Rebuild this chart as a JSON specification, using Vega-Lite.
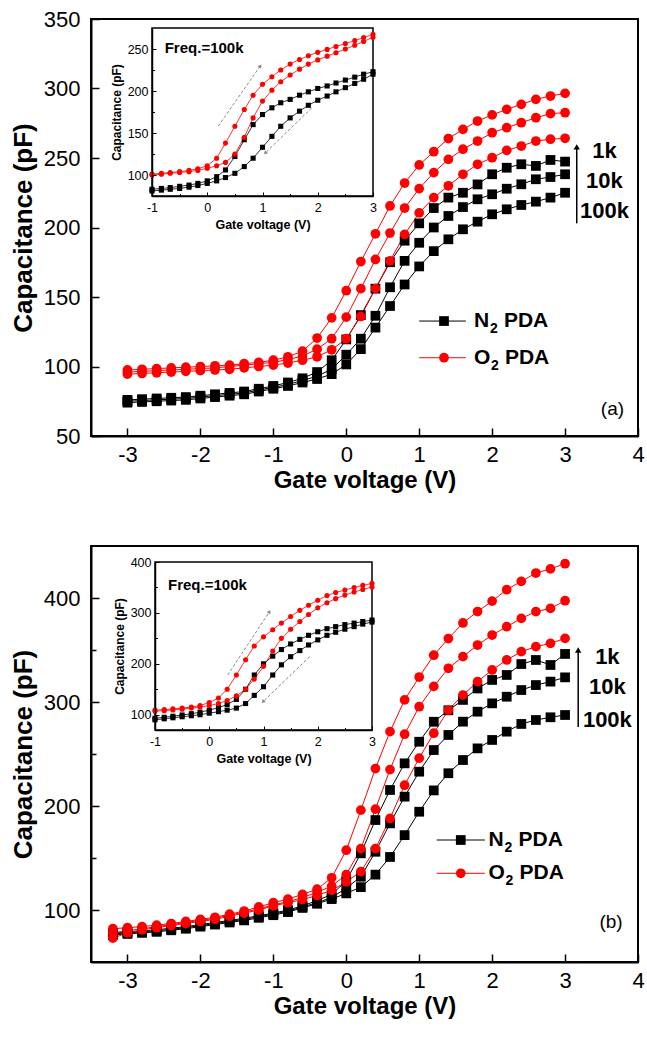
{
"$schema": "https://vega.github.io/schema/vega-lite/v6.json",
"padding": {"left": 9, "top": 7, "right": 0, "bottom": 0},
"spacing": 52,
"config": {
  "view": {"stroke": "black", "strokeWidth": 2},
  "font": "Liberation Sans",
  "axis": {"grid": false, "domainColor": "black", "domainWidth": 2, "tickColor": "black", "tickWidth": 1.5, "labelColor": "black", "titleColor": "black", "labelFont": "Liberation Sans", "titleFont": "Liberation Sans", "titleFontWeight": "bold", "labelFlush": false, "labelOverlap": false}
},
"datasets": {
  "a": [
    {"V":-3,"n1":76,"n10":75,"n100":74,"o1":97.5,"o10":96,"o100":94.5},
    {"V":-2.8,"n1":76.5,"n10":75.5,"n100":74.5,"o1":98,"o10":96.5,"o100":95},
    {"V":-2.6,"n1":77,"n10":76,"n100":75,"o1":98.5,"o10":97,"o100":95.5},
    {"V":-2.4,"n1":77.5,"n10":76.5,"n100":75.5,"o1":99,"o10":97.5,"o100":96},
    {"V":-2.2,"n1":78,"n10":77,"n100":76,"o1":99.5,"o10":98,"o100":96.5},
    {"V":-2,"n1":79,"n10":78,"n100":77,"o1":100,"o10":98.5,"o100":97},
    {"V":-1.8,"n1":80,"n10":79,"n100":78,"o1":100.5,"o10":99,"o100":97.5},
    {"V":-1.6,"n1":81,"n10":80,"n100":79,"o1":101,"o10":100,"o100":98},
    {"V":-1.4,"n1":82,"n10":81,"n100":80,"o1":102,"o10":101,"o100":99},
    {"V":-1.2,"n1":84,"n10":83,"n100":82,"o1":103,"o10":102,"o100":100},
    {"V":-1,"n1":86,"n10":85,"n100":84,"o1":104.5,"o10":103,"o100":101},
    {"V":-0.8,"n1":88.5,"n10":87,"n100":86,"o1":107,"o10":105,"o100":102.5},
    {"V":-0.6,"n1":91.5,"n10":90,"n100":88.5,"o1":111,"o10":107.5,"o100":104.5},
    {"V":-0.4,"n1":96,"n10":93,"n100":91,"o1":120.5,"o10":112.5,"o100":107},
    {"V":-0.2,"n1":104.5,"n10":98,"n100":94.5,"o1":135,"o10":120,"o100":112},
    {"V":0,"n1":119.5,"n10":108.5,"n100":101.5,"o1":154.5,"o10":135.5,"o100":120},
    {"V":0.2,"n1":137,"n10":120,"n100":112.5,"o1":175.5,"o10":156,"o100":136},
    {"V":0.4,"n1":156,"n10":136.5,"n100":128,"o1":195.5,"o10":177,"o100":156},
    {"V":0.6,"n1":175,"n10":157,"n100":143.5,"o1":215.5,"o10":196,"o100":176},
    {"V":0.8,"n1":190.5,"n10":176,"n100":159,"o1":232,"o10":214,"o100":195},
    {"V":1,"n1":203,"n10":189,"n100":172,"o1":245,"o10":228,"o100":210.5},
    {"V":1.2,"n1":214,"n10":200,"n100":183,"o1":254.5,"o10":239.5,"o100":221.5},
    {"V":1.4,"n1":221.5,"n10":208.3,"n100":191.5,"o1":264,"o10":249,"o100":230},
    {"V":1.6,"n1":225,"n10":214.7,"n100":198.7,"o1":270.6,"o10":256.3,"o100":238.3},
    {"V":1.8,"n1":231,"n10":220.3,"n100":204.2,"o1":276.6,"o10":262.2,"o100":245.5},
    {"V":2,"n1":238.3,"n10":223.9,"n100":209.5,"o1":281,"o10":268.2,"o100":250.2},
    {"V":2.2,"n1":243,"n10":227.9,"n100":213.1,"o1":285,"o10":271.8,"o100":255.5},
    {"V":2.4,"n1":245.5,"n10":231.1,"n100":216.2,"o1":288.6,"o10":275.4,"o100":258.6},
    {"V":2.6,"n1":244.3,"n10":234.7,"n100":218.6,"o1":292.2,"o10":279,"o100":262.2},
    {"V":2.8,"n1":248.6,"n10":236.3,"n100":221.5,"o1":294.6,"o10":281.9,"o100":263.5},
    {"V":3,"n1":247.4,"n10":238.3,"n100":225,"o1":296.5,"o10":282.6,"o100":264.2}
  ],
  "b": [
    {"V":-3.2,"n1":78,"n10":77,"n100":76,"o1":82,"o10":78,"o100":73},
    {"V":-3,"n1":79,"n10":78,"n100":77,"o1":83,"o10":80,"o100":78},
    {"V":-2.8,"n1":80,"n10":79,"n100":78,"o1":84,"o10":82,"o100":81},
    {"V":-2.6,"n1":81,"n10":80,"n100":79,"o1":85.5,"o10":84,"o100":83},
    {"V":-2.4,"n1":82.5,"n10":81.5,"n100":80.5,"o1":87,"o10":86,"o100":85},
    {"V":-2.2,"n1":84,"n10":83,"n100":82,"o1":89,"o10":88,"o100":87},
    {"V":-2,"n1":86,"n10":85,"n100":84,"o1":91,"o10":90,"o100":89},
    {"V":-1.8,"n1":88,"n10":87,"n100":86,"o1":93,"o10":92,"o100":91},
    {"V":-1.6,"n1":90,"n10":89,"n100":88,"o1":96,"o10":95,"o100":94},
    {"V":-1.4,"n1":92,"n10":91,"n100":90,"o1":99,"o10":98,"o100":97},
    {"V":-1.2,"n1":94.5,"n10":93.5,"n100":92.5,"o1":103,"o10":101,"o100":100},
    {"V":-1,"n1":97,"n10":96,"n100":95,"o1":107,"o10":105,"o100":104},
    {"V":-0.8,"n1":100,"n10":99,"n100":98,"o1":110.5,"o10":108,"o100":107},
    {"V":-0.6,"n1":104,"n10":103,"n100":102,"o1":115,"o10":112,"o100":110},
    {"V":-0.4,"n1":109,"n10":107,"n100":106,"o1":120,"o10":117,"o100":114},
    {"V":-0.2,"n1":115,"n10":112,"n100":110.5,"o1":131,"o10":123,"o100":119},
    {"V":0,"n1":128,"n10":121,"n100":116,"o1":157.5,"o10":134,"o100":127},
    {"V":0.2,"n1":154.5,"n10":132,"n100":122,"o1":196,"o10":159,"o100":137},
    {"V":0.4,"n1":186.5,"n10":156,"n100":134,"o1":236,"o10":197,"o100":159},
    {"V":0.6,"n1":215.4,"n10":183.3,"n100":151,"o1":271.5,"o10":235,"o100":188},
    {"V":0.8,"n1":241,"n10":209,"n100":172,"o1":302,"o10":269,"o100":220},
    {"V":1,"n1":261.8,"n10":233,"n100":194.5,"o1":324,"o10":295.5,"o100":246},
    {"V":1.2,"n1":281,"n10":253.8,"n100":215,"o1":345,"o10":315,"o100":270},
    {"V":1.4,"n1":292,"n10":268.3,"n100":231.5,"o1":361,"o10":332.4,"o100":292.3},
    {"V":1.6,"n1":302,"n10":281.1,"n100":244.2,"o1":376,"o10":343.6,"o100":306.7},
    {"V":1.8,"n1":313,"n10":290.7,"n100":255.4,"o1":387,"o10":354.8,"o100":319.6},
    {"V":2,"n1":321.2,"n10":298.7,"n100":263.5,"o1":397,"o10":364.4,"o100":330.8},
    {"V":2.2,"n1":326,"n10":305.1,"n100":271.5,"o1":408,"o10":372.4,"o100":340.4},
    {"V":2.4,"n1":336.5,"n10":311.5,"n100":278.9,"o1":416,"o10":380.4,"o100":348.4},
    {"V":2.6,"n1":340.4,"n10":316.3,"n100":282.7,"o1":424,"o10":386.9,"o100":353.2},
    {"V":2.8,"n1":335.6,"n10":319.6,"n100":285.3,"o1":428,"o10":390,"o100":356.4},
    {"V":3,"n1":346.2,"n10":323.7,"n100":287.5,"o1":433,"o10":397.4,"o100":361.2}
  ],
  "ia": [
    {"V":-1,"nf":83,"nb":81,"of":101,"ob":100},
    {"V":-0.83,"nf":84,"nb":82,"of":102,"ob":101},
    {"V":-0.67,"nf":85,"nb":83,"of":103,"ob":102},
    {"V":-0.5,"nf":86.5,"nb":84,"of":104,"ob":103},
    {"V":-0.33,"nf":88,"nb":85.5,"of":105.5,"ob":104},
    {"V":-0.17,"nf":90,"nb":87.5,"of":107.5,"ob":105.5},
    {"V":0,"nf":93,"nb":90,"of":111,"ob":108},
    {"V":0.17,"nf":98,"nb":93,"of":120,"ob":111},
    {"V":0.33,"nf":106,"nb":97,"of":138,"ob":115},
    {"V":0.5,"nf":122,"nb":102,"of":158,"ob":125},
    {"V":0.67,"nf":142,"nb":110,"of":178,"ob":145},
    {"V":0.83,"nf":160,"nb":120,"of":195,"ob":168},
    {"V":1,"nf":172,"nb":133,"of":208,"ob":188},
    {"V":1.17,"nf":180,"nb":146,"of":217,"ob":201},
    {"V":1.33,"nf":186,"nb":158,"of":225,"ob":211},
    {"V":1.5,"nf":190,"nb":168,"of":232,"ob":219},
    {"V":1.67,"nf":195,"nb":176,"of":237.5,"ob":226},
    {"V":1.83,"nf":199,"nb":183,"of":242,"ob":232},
    {"V":2,"nf":203,"nb":189,"of":246,"ob":237},
    {"V":2.17,"nf":206,"nb":194,"of":249.5,"ob":241.5},
    {"V":2.33,"nf":209.5,"nb":199,"of":253,"ob":245.5},
    {"V":2.5,"nf":213,"nb":204,"of":256.5,"ob":250},
    {"V":2.67,"nf":216.5,"nb":209,"of":260,"ob":254.5},
    {"V":2.83,"nf":220,"nb":214,"of":263.5,"ob":259},
    {"V":3,"nf":223,"nb":220,"of":267.5,"ob":264}
  ],
  "ib": [
    {"V":-1,"nf":93,"nb":90,"of":109,"ob":107},
    {"V":-0.83,"nf":95,"nb":92,"of":110,"ob":108},
    {"V":-0.67,"nf":97,"nb":94,"of":111.5,"ob":109.5},
    {"V":-0.5,"nf":99.5,"nb":96,"of":113,"ob":111},
    {"V":-0.33,"nf":102,"nb":98,"of":115,"ob":113},
    {"V":-0.17,"nf":105,"nb":100,"of":118,"ob":115},
    {"V":0,"nf":109,"nb":103,"of":124,"ob":118},
    {"V":0.17,"nf":114,"nb":106,"of":133,"ob":122},
    {"V":0.33,"nf":120,"nb":109,"of":150,"ob":128},
    {"V":0.5,"nf":130,"nb":113,"of":178,"ob":137},
    {"V":0.67,"nf":150,"nb":122,"of":208,"ob":150},
    {"V":0.83,"nf":178,"nb":138,"of":235,"ob":170},
    {"V":1,"nf":200,"nb":155,"of":253,"ob":195},
    {"V":1.17,"nf":215,"nb":178,"of":267,"ob":225},
    {"V":1.33,"nf":228,"nb":198,"of":280,"ob":250},
    {"V":1.5,"nf":239,"nb":214,"of":293,"ob":268},
    {"V":1.67,"nf":248,"nb":226,"of":305,"ob":283},
    {"V":1.83,"nf":256,"nb":237,"of":315,"ob":297},
    {"V":2,"nf":263,"nb":247,"of":325,"ob":310},
    {"V":2.17,"nf":269,"nb":256,"of":334,"ob":320},
    {"V":2.33,"nf":273,"nb":262,"of":340,"ob":328},
    {"V":2.5,"nf":277,"nb":268,"of":345,"ob":335},
    {"V":2.67,"nf":280,"nb":273,"of":350,"ob":341},
    {"V":2.83,"nf":283,"nb":278,"of":354,"ob":346},
    {"V":3,"nf":286,"nb":282,"of":358,"ob":351}
  ]
},
"vconcat": [
{
  "width": 547, "height": 417,
  "resolve": {"scale": {"x": "independent", "y": "independent"}},
  "layer": [
    {"layer": [
      {"data": {"name": "a"}, "transform": [{"fold": ["n1","n10","n100","o1","o10","o100"], "as": ["k","C"]}],
       "mark": {"type": "line", "strokeWidth": 1},
       "encoding": {
         "x": {"field": "V", "type": "quantitative", "scale": {"domain": [-3.5, 4], "nice": false, "zero": false},
               "axis": {"title": "Gate voltage (V)", "orient": "bottom", "values": [-3,-2.5,-2,-1.5,-1,-0.5,0,0.5,1,1.5,2,2.5,3,3.5,4],
                        "labelExpr": "datum.value % 1 === 0 ? (datum.value < 0 ? '-' + abs(datum.value) : '' + datum.value) : ''",
                        "tickSize": {"condition": {"test": "datum.value % 1 !== 0", "value": -5}, "value": -8},
                        "labelPadding": 16, "labelFontSize": 22, "titleFontSize": 24, "titlePadding": 3}},
         "y": {"field": "C", "type": "quantitative", "scale": {"domain": [50, 350], "nice": false, "zero": false},
               "axis": {"title": "Capacitance (pF)", "orient": "left", "values": [50,75,100,125,150,175,200,225,250,275,300,325,350],
                        "labelExpr": "datum.value % 50 === 0 ? datum.label : ''",
                        "tickSize": {"condition": {"test": "datum.value % 50 !== 0", "value": -5}, "value": -8},
                        "labelPadding": 19, "labelFontSize": 22, "titleFontSize": 26, "titlePadding": 7}},
         "color": {"field": "k", "type": "nominal", "legend": null, "scale": {"domain": ["n1","n10","n100","o1","o10","o100","nf","nb","of","ob"], "range": ["#000000","#000000","#000000","#ff0000","#ff0000","#ff0000","#000000","#000000","#ff0000","#ff0000"]}},
         "detail": {"field": "k"}
       }},
      {"data": {"name": "a"}, "transform": [{"fold": ["n1","n10","n100","o1","o10","o100"], "as": ["k","C"]}],
       "mark": {"type": "point", "filled": true, "size": 95, "opacity": 1},
       "encoding": {
         "x": {"field": "V", "type": "quantitative"},
         "y": {"field": "C", "type": "quantitative"},
         "color": {"field": "k", "type": "nominal", "legend": null},
         "shape": {"field": "k", "type": "nominal", "legend": null, "scale": {"domain": ["n1","n10","n100","o1","o10","o100","nf","nb","of","ob"], "range": ["square","square","square","circle","circle","circle","square","square","circle","circle"]}}
       }},
      {"data": {"values": [{}]}, "mark": {"type": "rule", "color": "#000000", "strokeWidth": 1}, "encoding": {"x": {"datum": 1.0}, "x2": {"datum": 1.64}, "y": {"datum": 132.7}}},
      {"data": {"values": [{}]}, "mark": {"type": "point", "shape": "square", "filled": true, "size": 95, "color": "#000000", "opacity": 1}, "encoding": {"x": {"datum": 1.34}, "y": {"datum": 132.7}}},
      {"data": {"values": [{}]}, "mark": {"type": "rule", "color": "#ff0000", "strokeWidth": 1}, "encoding": {"x": {"datum": 1.0}, "x2": {"datum": 1.64}, "y": {"datum": 106.3}}},
      {"data": {"values": [{}]}, "mark": {"type": "point", "shape": "circle", "filled": true, "size": 95, "color": "#ff0000", "opacity": 1}, "encoding": {"x": {"datum": 1.34}, "y": {"datum": 106.3}}},
      {"data": {"values": [{}]}, "mark": {"type": "text", "fontSize": 21, "fontWeight": "bold", "align": "left", "baseline": "middle"}, "encoding": {"x": {"datum": 1.75}, "y": {"datum": 132.7}, "text": {"value": "N"}}},
      {"data": {"values": [{}]}, "mark": {"type": "text", "fontSize": 14, "fontWeight": "bold", "align": "left", "baseline": "middle", "dx": 16, "dy": 8}, "encoding": {"x": {"datum": 1.75}, "y": {"datum": 132.7}, "text": {"value": "2"}}},
      {"data": {"values": [{}]}, "mark": {"type": "text", "fontSize": 21, "fontWeight": "bold", "align": "left", "baseline": "middle", "dx": 30}, "encoding": {"x": {"datum": 1.75}, "y": {"datum": 132.7}, "text": {"value": "PDA"}}},
      {"data": {"values": [{}]}, "mark": {"type": "text", "fontSize": 21, "fontWeight": "bold", "align": "left", "baseline": "middle"}, "encoding": {"x": {"datum": 1.75}, "y": {"datum": 106.3}, "text": {"value": "O"}}},
      {"data": {"values": [{}]}, "mark": {"type": "text", "fontSize": 14, "fontWeight": "bold", "align": "left", "baseline": "middle", "dx": 17, "dy": 8}, "encoding": {"x": {"datum": 1.75}, "y": {"datum": 106.3}, "text": {"value": "2"}}},
      {"data": {"values": [{}]}, "mark": {"type": "text", "fontSize": 21, "fontWeight": "bold", "align": "left", "baseline": "middle", "dx": 31}, "encoding": {"x": {"datum": 1.75}, "y": {"datum": 106.3}, "text": {"value": "PDA"}}},
      {"data": {"values": [{}]}, "mark": {"type": "text", "fontSize": 19, "align": "center", "baseline": "middle"}, "encoding": {"x": {"datum": 3.65}, "y": {"datum": 69.4}, "text": {"value": "(a)"}}},
      {"data": {"values": [{}]}, "mark": {"type": "text", "fontSize": 22, "fontWeight": "bold", "align": "center", "baseline": "middle"}, "encoding": {"x": {"datum": 3.54}, "y": {"datum": 255}, "text": {"value": "1k"}}},
      {"data": {"values": [{}]}, "mark": {"type": "text", "fontSize": 22, "fontWeight": "bold", "align": "center", "baseline": "middle"}, "encoding": {"x": {"datum": 3.54}, "y": {"datum": 233.5}, "text": {"value": "10k"}}},
      {"data": {"values": [{}]}, "mark": {"type": "text", "fontSize": 22, "fontWeight": "bold", "align": "center", "baseline": "middle"}, "encoding": {"x": {"datum": 3.54}, "y": {"datum": 212}, "text": {"value": "100k"}}},
      {"data": {"values": [{}]}, "mark": {"type": "rule", "color": "#000000", "strokeWidth": 1.5}, "encoding": {"x": {"datum": 3.16}, "y": {"datum": 203}, "y2": {"datum": 257}}},
      {"data": {"values": [{}]}, "mark": {"type": "point", "shape": "triangle-up", "filled": true, "size": 40, "color": "#000000", "opacity": 1}, "encoding": {"x": {"datum": 3.16}, "y": {"datum": 258}}}
    ]},
    {"layer": [
      {"data": {"values": [{}]}, "mark": {"type": "rect", "fill": "white", "stroke": "black", "strokeWidth": 1.5}, "encoding": {"x": {"datum": -1}, "x2": {"datum": 3}, "y": {"datum": 75}, "y2": {"datum": 275}}},
      {"data": {"name": "ia"}, "transform": [{"fold": ["nf","nb","of","ob"], "as": ["k","C"]}],
       "mark": {"type": "line", "strokeWidth": 0.8},
       "encoding": {
         "x": {"field": "V", "type": "quantitative", "scale": {"domain": [-1, 3], "range": [61, 282], "nice": false, "zero": false},
               "axis": {"title": "Gate voltage (V)", "orient": "bottom", "offset": -240, "zindex": 1, "values": [-1,-0.5,0,0.5,1,1.5,2,2.5,3],
                        "labelExpr": "datum.value % 1 === 0 ? (datum.value < 0 ? '-' + abs(datum.value) : '' + datum.value) : ''",
                        "tickSize": {"condition": {"test": "datum.value % 1 !== 0", "value": -2.5}, "value": -4},
                        "labelPadding": 9, "labelFontSize": 12.5, "titleFontSize": 12.5, "titlePadding": 3, "domainWidth": 1.5, "tickWidth": 1}},
         "y": {"field": "C", "type": "quantitative", "scale": {"domain": [75, 275], "range": [177, 9], "nice": false, "zero": false},
               "axis": {"title": "Capacitance (pF)", "orient": "left", "offset": -61, "zindex": 1, "values": [100,125,150,175,200,225,250],
                        "labelExpr": "datum.value % 50 === 0 ? datum.label : ''",
                        "tickSize": {"condition": {"test": "datum.value % 50 !== 0", "value": -2.5}, "value": -4},
                        "labelPadding": 8, "labelFontSize": 12.5, "titleFontSize": 12, "titlePadding": 4, "domainWidth": 1.5, "tickWidth": 1}},
         "color": {"field": "k", "type": "nominal", "legend": null},
         "detail": {"field": "k"}
       }},
      {"data": {"name": "ia"}, "transform": [{"fold": ["nf","nb","of","ob"], "as": ["k","C"]}],
       "mark": {"type": "point", "filled": true, "size": 26, "opacity": 1},
       "encoding": {
         "x": {"field": "V", "type": "quantitative"},
         "y": {"field": "C", "type": "quantitative"},
         "color": {"field": "k", "type": "nominal", "legend": null},
         "shape": {"field": "k", "type": "nominal", "legend": null}
       }},
      {"data": {"values": [{}]}, "mark": {"type": "text", "fontSize": 15, "fontWeight": "bold", "align": "left", "baseline": "middle"}, "encoding": {"x": {"datum": -0.77}, "y": {"datum": 251}, "text": {"value": "Freq.=100k"}}},
      {"data": {"values": [{}]}, "mark": {"type": "rule", "color": "#888888", "strokeWidth": 1, "strokeDash": [3, 2]}, "encoding": {"x": {"datum": 0.2}, "y": {"datum": 158.3}, "x2": {"datum": 0.96}, "y2": {"datum": 229.8}}},
      {"data": {"values": [{}]}, "mark": {"type": "point", "shape": "triangle-up", "angle": 35, "filled": true, "size": 18, "color": "#888888", "opacity": 1}, "encoding": {"x": {"datum": 0.96}, "y": {"datum": 229.8}}},
      {"data": {"values": [{}]}, "mark": {"type": "rule", "color": "#888888", "strokeWidth": 1, "strokeDash": [3, 2]}, "encoding": {"x": {"datum": 1.89}, "y": {"datum": 179.8}, "x2": {"datum": 1.05}, "y2": {"datum": 126.2}}},
      {"data": {"values": [{}]}, "mark": {"type": "point", "shape": "triangle-up", "angle": 225, "filled": true, "size": 18, "color": "#888888", "opacity": 1}, "encoding": {"x": {"datum": 1.05}, "y": {"datum": 126.2}}}
    ]}
  ]
},
{
  "width": 547, "height": 416,
  "resolve": {"scale": {"x": "independent", "y": "independent"}},
  "layer": [
    {"layer": [
      {"data": {"name": "b"}, "transform": [{"fold": ["n1","n10","n100","o1","o10","o100"], "as": ["k","C"]}],
       "mark": {"type": "line", "strokeWidth": 1},
       "encoding": {
         "x": {"field": "V", "type": "quantitative", "scale": {"domain": [-3.5, 4], "nice": false, "zero": false},
               "axis": {"title": "Gate voltage (V)", "orient": "bottom", "values": [-3,-2.5,-2,-1.5,-1,-0.5,0,0.5,1,1.5,2,2.5,3,3.5,4],
                        "labelExpr": "datum.value % 1 === 0 ? (datum.value < 0 ? '-' + abs(datum.value) : '' + datum.value) : ''",
                        "tickSize": {"condition": {"test": "datum.value % 1 !== 0", "value": -5}, "value": -8},
                        "labelPadding": 16, "labelFontSize": 22, "titleFontSize": 24, "titlePadding": 3}},
         "y": {"field": "C", "type": "quantitative", "scale": {"domain": [50, 450], "nice": false, "zero": false},
               "axis": {"title": "Capacitance (pF)", "orient": "left", "values": [100,150,200,250,300,350,400],
                        "labelExpr": "datum.value % 100 === 0 ? datum.label : ''",
                        "tickSize": {"condition": {"test": "datum.value % 100 !== 0", "value": -5}, "value": -8},
                        "labelPadding": 19, "labelFontSize": 22, "titleFontSize": 26, "titlePadding": 7}},
         "color": {"field": "k", "type": "nominal", "legend": null},
         "detail": {"field": "k"}
       }},
      {"data": {"name": "b"}, "transform": [{"fold": ["n1","n10","n100","o1","o10","o100"], "as": ["k","C"]}],
       "mark": {"type": "point", "filled": true, "size": 95, "opacity": 1},
       "encoding": {
         "x": {"field": "V", "type": "quantitative"},
         "y": {"field": "C", "type": "quantitative"},
         "color": {"field": "k", "type": "nominal", "legend": null},
         "shape": {"field": "k", "type": "nominal", "legend": null}
       }},
      {"data": {"values": [{}]}, "mark": {"type": "rule", "color": "#000000", "strokeWidth": 1}, "encoding": {"x": {"datum": 1.24}, "x2": {"datum": 1.9}, "y": {"datum": 167.3}}},
      {"data": {"values": [{}]}, "mark": {"type": "point", "shape": "square", "filled": true, "size": 95, "color": "#000000", "opacity": 1}, "encoding": {"x": {"datum": 1.57}, "y": {"datum": 167.3}}},
      {"data": {"values": [{}]}, "mark": {"type": "rule", "color": "#ff0000", "strokeWidth": 1}, "encoding": {"x": {"datum": 1.24}, "x2": {"datum": 1.9}, "y": {"datum": 135.3}}},
      {"data": {"values": [{}]}, "mark": {"type": "point", "shape": "circle", "filled": true, "size": 95, "color": "#ff0000", "opacity": 1}, "encoding": {"x": {"datum": 1.57}, "y": {"datum": 135.3}}},
      {"data": {"values": [{}]}, "mark": {"type": "text", "fontSize": 21, "fontWeight": "bold", "align": "left", "baseline": "middle"}, "encoding": {"x": {"datum": 1.95}, "y": {"datum": 167.3}, "text": {"value": "N"}}},
      {"data": {"values": [{}]}, "mark": {"type": "text", "fontSize": 14, "fontWeight": "bold", "align": "left", "baseline": "middle", "dx": 16, "dy": 8}, "encoding": {"x": {"datum": 1.95}, "y": {"datum": 167.3}, "text": {"value": "2"}}},
      {"data": {"values": [{}]}, "mark": {"type": "text", "fontSize": 21, "fontWeight": "bold", "align": "left", "baseline": "middle", "dx": 30}, "encoding": {"x": {"datum": 1.95}, "y": {"datum": 167.3}, "text": {"value": "PDA"}}},
      {"data": {"values": [{}]}, "mark": {"type": "text", "fontSize": 21, "fontWeight": "bold", "align": "left", "baseline": "middle"}, "encoding": {"x": {"datum": 1.95}, "y": {"datum": 135.3}, "text": {"value": "O"}}},
      {"data": {"values": [{}]}, "mark": {"type": "text", "fontSize": 14, "fontWeight": "bold", "align": "left", "baseline": "middle", "dx": 17, "dy": 8}, "encoding": {"x": {"datum": 1.95}, "y": {"datum": 135.3}, "text": {"value": "2"}}},
      {"data": {"values": [{}]}, "mark": {"type": "text", "fontSize": 21, "fontWeight": "bold", "align": "left", "baseline": "middle", "dx": 31}, "encoding": {"x": {"datum": 1.95}, "y": {"datum": 135.3}, "text": {"value": "PDA"}}},
      {"data": {"values": [{}]}, "mark": {"type": "text", "fontSize": 19, "align": "center", "baseline": "middle"}, "encoding": {"x": {"datum": 3.63}, "y": {"datum": 88.8}, "text": {"value": "(b)"}}},
      {"data": {"values": [{}]}, "mark": {"type": "text", "fontSize": 22, "fontWeight": "bold", "align": "center", "baseline": "middle"}, "encoding": {"x": {"datum": 3.58}, "y": {"datum": 343.6}, "text": {"value": "1k"}}},
      {"data": {"values": [{}]}, "mark": {"type": "text", "fontSize": 22, "fontWeight": "bold", "align": "center", "baseline": "middle"}, "encoding": {"x": {"datum": 3.58}, "y": {"datum": 314.7}, "text": {"value": "10k"}}},
      {"data": {"values": [{}]}, "mark": {"type": "text", "fontSize": 22, "fontWeight": "bold", "align": "center", "baseline": "middle"}, "encoding": {"x": {"datum": 3.58}, "y": {"datum": 282.7}, "text": {"value": "100k"}}},
      {"data": {"values": [{}]}, "mark": {"type": "rule", "color": "#000000", "strokeWidth": 1.5}, "encoding": {"x": {"datum": 3.18}, "y": {"datum": 276}, "y2": {"datum": 349}}},
      {"data": {"values": [{}]}, "mark": {"type": "point", "shape": "triangle-up", "filled": true, "size": 40, "color": "#000000", "opacity": 1}, "encoding": {"x": {"datum": 3.18}, "y": {"datum": 350}}}
    ]},
    {"layer": [
      {"data": {"values": [{}]}, "mark": {"type": "rect", "fill": "white", "stroke": "black", "strokeWidth": 1.5}, "encoding": {"x": {"datum": -1}, "x2": {"datum": 3}, "y": {"datum": 70}, "y2": {"datum": 400}}},
      {"data": {"name": "ib"}, "transform": [{"fold": ["nf","nb","of","ob"], "as": ["k","C"]}],
       "mark": {"type": "line", "strokeWidth": 0.8},
       "encoding": {
         "x": {"field": "V", "type": "quantitative", "scale": {"domain": [-1, 3], "range": [64, 281], "nice": false, "zero": false},
               "axis": {"title": "Gate voltage (V)", "orient": "bottom", "offset": -232, "zindex": 1, "values": [-1,-0.5,0,0.5,1,1.5,2,2.5,3],
                        "labelExpr": "datum.value % 1 === 0 ? (datum.value < 0 ? '-' + abs(datum.value) : '' + datum.value) : ''",
                        "tickSize": {"condition": {"test": "datum.value % 1 !== 0", "value": -2.5}, "value": -4},
                        "labelPadding": 9, "labelFontSize": 12.5, "titleFontSize": 12.5, "titlePadding": 3, "domainWidth": 1.5, "tickWidth": 1}},
         "y": {"field": "C", "type": "quantitative", "scale": {"domain": [70, 400], "range": [184, 16], "nice": false, "zero": false},
               "axis": {"title": "Capacitance (pF)", "orient": "left", "offset": -64, "zindex": 1, "values": [100,150,200,250,300,350,400],
                        "labelExpr": "datum.value % 100 === 0 ? datum.label : ''",
                        "tickSize": {"condition": {"test": "datum.value % 100 !== 0", "value": -2.5}, "value": -4},
                        "labelPadding": 8, "labelFontSize": 12.5, "titleFontSize": 12, "titlePadding": 4, "domainWidth": 1.5, "tickWidth": 1}},
         "color": {"field": "k", "type": "nominal", "legend": null},
         "detail": {"field": "k"}
       }},
      {"data": {"name": "ib"}, "transform": [{"fold": ["nf","nb","of","ob"], "as": ["k","C"]}],
       "mark": {"type": "point", "filled": true, "size": 26, "opacity": 1},
       "encoding": {
         "x": {"field": "V", "type": "quantitative"},
         "y": {"field": "C", "type": "quantitative"},
         "color": {"field": "k", "type": "nominal", "legend": null},
         "shape": {"field": "k", "type": "nominal", "legend": null}
       }},
      {"data": {"values": [{}]}, "mark": {"type": "text", "fontSize": 15, "fontWeight": "bold", "align": "left", "baseline": "middle"}, "encoding": {"x": {"datum": -0.76}, "y": {"datum": 354.8}, "text": {"value": "Freq.=100k"}}},
      {"data": {"values": [{}]}, "mark": {"type": "rule", "color": "#888888", "strokeWidth": 1, "strokeDash": [3, 2]}, "encoding": {"x": {"datum": 0.34}, "y": {"datum": 178}, "x2": {"datum": 1.11}, "y2": {"datum": 302.4}}},
      {"data": {"values": [{}]}, "mark": {"type": "point", "shape": "triangle-up", "angle": 33, "filled": true, "size": 18, "color": "#888888", "opacity": 1}, "encoding": {"x": {"datum": 1.11}, "y": {"datum": 302.4}}},
      {"data": {"values": [{}]}, "mark": {"type": "rule", "color": "#888888", "strokeWidth": 1, "strokeDash": [3, 2]}, "encoding": {"x": {"datum": 1.85}, "y": {"datum": 214}, "x2": {"datum": 0.99}, "y2": {"datum": 125.5}}},
      {"data": {"values": [{}]}, "mark": {"type": "point", "shape": "triangle-up", "angle": 226, "filled": true, "size": 18, "color": "#888888", "opacity": 1}, "encoding": {"x": {"datum": 0.99}, "y": {"datum": 125.5}}}
    ]}
  ]
}
]
}
